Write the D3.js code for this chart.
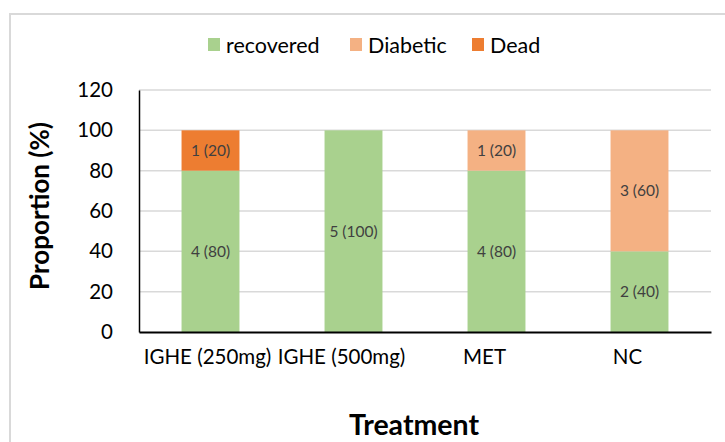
<!DOCTYPE html>
<html>
<head>
<meta charset="utf-8">
<script src="https://cdn.jsdelivr.net/npm/d3@7"></script>
<style>
  html, body { margin: 0; padding: 0; background: #fff; }
  svg { display: block; }
  text { font-family: Lato, "Open Sans", sans-serif; }
</style>
</head>
<body>
<svg id="chart" width="725" height="442"></svg>
<script>
// Outcome counts per treatment group (n = 5 each)
const treatments = ["IGHE (250mg)", "IGHE (500mg)", "MET", "NC"];
const seriesNames = ["recovered", "Diabetic", "Dead"];
const recovered = [80, 100, 80, 40];
const diabetic = [0, 0, 20, 60];
const dead = [20, 0, 0, 0];
const recoveredN = [4, 5, 4, 2];
const diabeticN = [0, 0, 1, 3];
const deadN = [1, 0, 0, 0];
const yTicks = [0, 20, 40, 60, 80, 100, 120];
const colors = ["#a9d18e", "#f4b183", "#ed7d31"];

const rows = treatments.map((t, i) => ({
  treatment: t,
  recovered: recovered[i], Diabetic: diabetic[i], Dead: dead[i],
  n: { recovered: recoveredN[i], Diabetic: diabeticN[i], Dead: deadN[i] }
}));

const svg = d3.select("#chart");
const margin = { left: 139, right: 14 };
const W = 725;

// frame
svg.append("path")
  .attr("d", `M10,442 L10,14 L725,14`)
  .attr("fill", "none").attr("stroke", "#d9d9d9").attr("stroke-width", 2);

const x = d3.scaleBand().domain(treatments)
  .range([margin.left, W - margin.right]).paddingInner(0.595).paddingOuter(0.2975);
const y = d3.scaleLinear().domain([0, 120]).range([332, 90]);

// gridlines
svg.append("g").selectAll("line").data(yTicks.filter(d => d > 0)).join("line")
  .attr("x1", margin.left).attr("x2", W - margin.right)
  .attr("y1", d => y(d)).attr("y2", d => y(d))
  .attr("stroke", "#d9d9d9").attr("stroke-width", 1.5);

const stack = d3.stack().keys(seriesNames)(rows);

const g = svg.append("g");
stack.forEach((layer, li) => {
  g.append("g").selectAll("rect").data(layer).join("rect")
    .attr("x", d => x(d.data.treatment))
    .attr("width", x.bandwidth())
    .attr("y", d => y(d[1]))
    .attr("height", d => y(d[0]) - y(d[1]))
    .attr("fill", colors[li]);
  g.append("g").selectAll("text").data(layer.filter(d => d[1] - d[0] > 0)).join("text")
    .attr("x", d => x(d.data.treatment) + x.bandwidth() / 2)
    .attr("y", d => (y(d[0]) + y(d[1])) / 2)
    .attr("dy", "0.35em")
    .attr("text-anchor", "middle")
    .attr("font-size", 15.5)
    .attr("fill", "#404040")
    .text(d => `${d.data.n[layer.key]} (${d[1] - d[0]})`);
});

// y axis
const yAxis = svg.append("g").attr("transform", `translate(${margin.left},0)`)
  .call(d3.axisLeft(y).tickValues(yTicks).tickSize(0).tickPadding(26));
yAxis.select(".domain").attr("stroke", "#000").attr("stroke-width", 1.5);
yAxis.selectAll("text").attr("font-size", 20.5).attr("fill", "#000")
  .style("font-family", "Lato, sans-serif");

// x axis; category labels sit slightly left of their bars
const xAxis = svg.append("g").attr("transform", `translate(0,${y(0)})`)
  .call(d3.axisBottom(x).tickSize(0).tickPadding(17));
xAxis.select(".domain").attr("stroke", "#000").attr("stroke-width", 2);
xAxis.selectAll("text").attr("font-size", 20.5).attr("fill", "#000")
  .attr("dx", (d, i) => i === 0 ? -3 : -12)
  .style("font-family", "Lato, sans-serif");

// axis titles
svg.append("text")
  .attr("transform", `translate(40,206) rotate(-90)`)
  .attr("text-anchor", "middle").attr("dy", "0.35em")
  .attr("font-size", 26).attr("font-weight", "bold").attr("fill", "#000")
  .text("Proportion (%)");
svg.append("text")
  .attr("x", 414).attr("y", 425).attr("dy", "0.35em")
  .attr("text-anchor", "middle")
  .attr("font-size", 28.5).attr("font-weight", "bold").attr("fill", "#000")
  .text("Treatment");

// legend
const legendX = [208, 350, 472];
const legend = svg.append("g");
seriesNames.forEach((s, i) => {
  legend.append("rect").attr("x", legendX[i]).attr("y", 38)
    .attr("width", 12).attr("height", 13).attr("fill", colors[i]);
  legend.append("text").attr("x", legendX[i] + 18).attr("y", 45).attr("dy", "0.35em")
    .attr("font-size", 21.5).attr("fill", "#000").text(s);
});
</script>
</body>
</html>
